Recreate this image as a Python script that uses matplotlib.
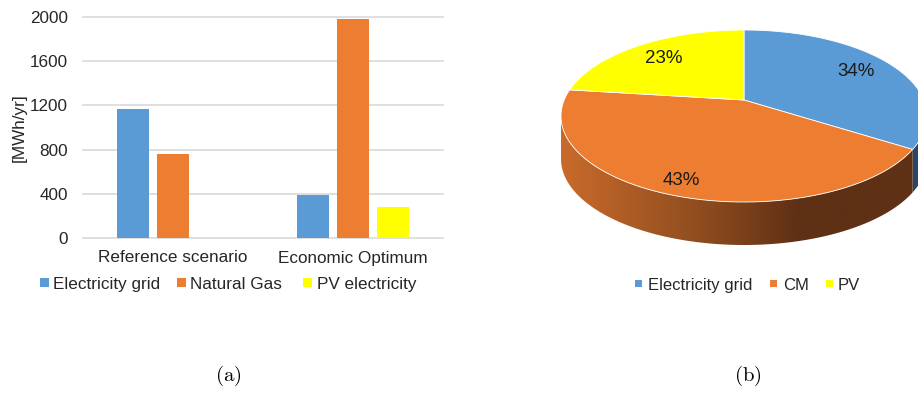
import matplotlib.pyplot as plt
import numpy as np
from matplotlib.patches import Polygon, Rectangle
from matplotlib.colors import LinearSegmentedColormap

plt.rcParams['font.family'] = ['Liberation Sans', 'DejaVu Sans']

# bar chart data (a)
scenarios = ['Reference scenario', 'Economic Optimum']
bar_series = ['Electricity grid', 'Natural Gas', 'PV electricity']
grid_mwh = [1165, 390]
gas_mwh = [760, 1980]
pv_mwh = [0, 280]
bar_colors = ['#5B9BD5', '#ED7D31', '#FFFF00']

# pie data (b)
pie_labels = ['Electricity grid', 'CM', 'PV']
pie_share = [34, 43, 23]
pie_colors = ['#5B9BD5', '#ED7D31', '#FFFF00']

W, H = 918, 393
fig = plt.figure(figsize=(W / 100, H / 100), dpi=100)


def px_box(x0, y0, x1, y1):
    # pixel box (top-left origin) -> figure fraction rect
    return [x0 / W, 1 - y1 / H, (x1 - x0) / W, (y1 - y0) / H]


def legend_row(labels, colors, sq_x, txt_x, sq_top, sq_size, baseline, fs):
    # simple excel-like legend: coloured squares + labels on one baseline
    for lab, c, sx, tx in zip(labels, colors, sq_x, txt_x):
        x0, y0, w, h = px_box(sx, sq_top, sx + sq_size, sq_top + sq_size)
        fig.add_artist(Rectangle((x0, y0), w, h, transform=fig.transFigure,
                                 facecolor=c, edgecolor='none'))
        fig.text(tx / W, 1 - baseline / H, lab, fontsize=fs, color='#262626',
                 ha='left', va='baseline')


# ---- (a) bar chart
ax1 = fig.add_axes(px_box(83, 17, 443, 238))
x = np.arange(len(scenarios))
bw = 0.178
for i, (vals, c) in enumerate(zip([grid_mwh, gas_mwh, pv_mwh], bar_colors)):
    ax1.bar(x + (i - 1) * 0.222, vals, bw, color=c, zorder=3)
ax1.set_xlim(-0.5, 1.5)
ax1.set_ylim(0, 2000)
ax1.set_yticks(range(0, 2001, 400))
ax1.set_xticks(x, scenarios)
ax1.grid(axis='y', color='#D9D9D9', lw=1.2, zorder=0)
for l in ax1.get_ygridlines():
    l.set_clip_on(False)
for s in ax1.spines.values():
    s.set_visible(False)
ax1.tick_params(length=0, labelsize=12.3, colors='#262626')
ax1.tick_params(axis='y', pad=11)
ax1.tick_params(axis='x', pad=9)
fig.text(19 / W, 1 - 128 / H, '[MWh/yr]', rotation=90, fontsize=12.3,
         color='#262626', ha='center', va='center')

legend_row(bar_series, bar_colors, [40, 177, 303], [53, 190, 317],
           278, 9, 289, 12.3)

# ---- (b) 3D-looking pie, tilted with a little perspective
cx, cy, rx, ry = 744, 116, 183, 86
depth = 0.5
tilt = np.arctanh(0.186)  # pulls the pie centre up to mimic perspective
ax2 = fig.add_axes(px_box(cx - 1.2 * rx, cy - 1.2 * ry, cx + 1.2 * rx, cy + 1.8 * ry))


def persp(px, py):
    d = py * np.sinh(tilt) + np.cosh(tilt)
    return px / d, (py * np.cosh(tilt) + np.sinh(tilt)) / d


vx, vy = persp(0.0, 0.0)
side_cmaps = [
    LinearSegmentedColormap.from_list('b', ['#2E4C6C', '#2B4765']),
    LinearSegmentedColormap.from_list('o', [(0, '#C96A2B'), (0.38, '#8F4D1F'),
                                            (0.65, '#5F3015'), (1, '#5E3014')]),
    LinearSegmentedColormap.from_list('y', ['#B0B000', '#808000']),
]
grad = np.linspace(0, 1, 256).reshape(1, -1)
start = 90.0
for share, col, cm in zip(pie_share, pie_colors, side_cmaps):
    end = start - 360 * share / 100
    t = np.radians(np.linspace(start, end, 300))
    ex, ey = persp(np.cos(t), np.sin(t))
    ax2.add_patch(Polygon(np.vstack([[vx, vy], np.column_stack([ex, ey])]),
                          closed=True, facecolor=col, edgecolor='white',
                          lw=0.6, zorder=2))
    mid = np.radians((start + end) / 2)
    r_lab = 0.8 - 0.08 * np.sin(mid)
    lx, ly = persp(r_lab * np.cos(mid), r_lab * np.sin(mid))
    ax2.text(lx, ly, '%d%%' % share, fontsize=13.5, color='#1a1a1a',
             ha='center', va='center', zorder=3)
    start = end
    # side wall for the front part of the slice
    front = ey <= 1e-9
    if front.sum() < 2:
        continue
    fx, fy = ex[front], ey[front]
    top = np.column_stack([fx, fy])
    bot = np.column_stack([fx, fy - depth])[::-1]
    poly = Polygon(np.vstack([top, bot]), closed=True, facecolor='none',
                   edgecolor='none')
    ax2.add_patch(poly)
    im = ax2.imshow(grad, extent=[-1, 1, -1 - depth, 0], aspect='auto',
                    cmap=cm, zorder=1)
    im.set_clip_path(poly)

ax2.set_aspect('auto')
ax2.set_xlim(-1.2, 1.2)
ax2.set_ylim(-1.8, 1.2)
ax2.axis('off')

legend_row(pie_labels, pie_colors, [635, 770, 826], [648, 783, 838],
           280, 7, 290, 12)

# captions
fig.text(228 / W, 1 - 376 / H, r'$\mathrm{(a)}$', math_fontfamily='cm',
         fontsize=15, ha='center', va='center')
fig.text(748 / W, 1 - 376 / H, r'$\mathrm{(b)}$', math_fontfamily='cm',
         fontsize=15, ha='center', va='center')

fig.savefig('out.png', dpi=100)
